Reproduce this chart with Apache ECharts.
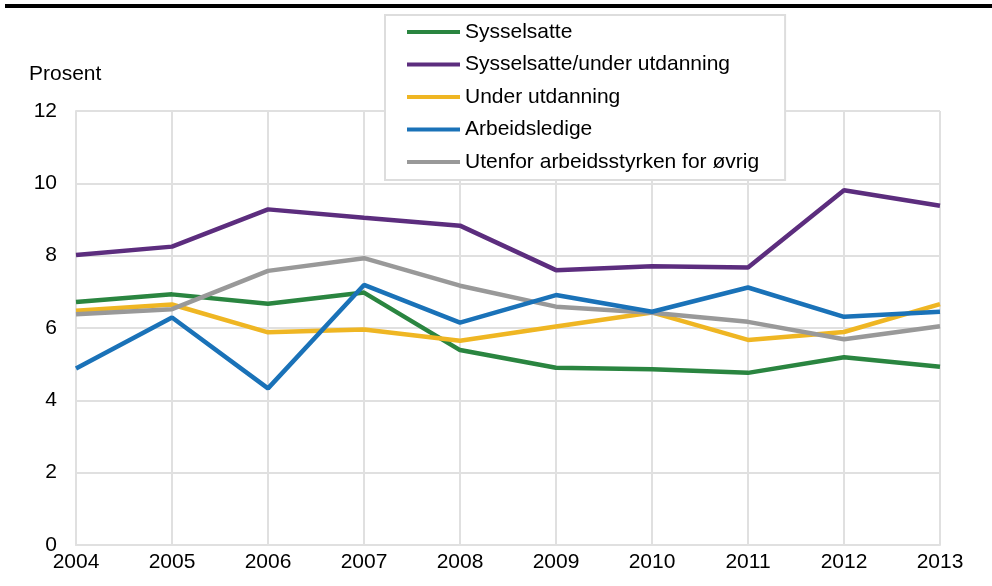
<!DOCTYPE html>
<html><head><meta charset="utf-8">
<script src="https://cdn.jsdelivr.net/npm/echarts@6/dist/echarts.min.js"></script>
<style>html,body{margin:0;padding:0;background:#fff}#c{width:992px;height:586px}</style>
</head><body><div id="c"></div>
<script>
const years = ['2004','2005','2006','2007','2008','2009','2010','2011','2012','2013'];
const seriesNames = ['Sysselsatte','Sysselsatte/under utdanning','Under utdanning','Arbeidsledige','Utenfor arbeidsstyrken for øvrig'];
const sysselsatte = [6.72,6.93,6.67,6.98,5.39,4.90,4.86,4.76,5.19,4.93];
const sysselsatteUnderUtdanning = [8.02,8.25,9.28,9.05,8.83,7.60,7.71,7.67,9.81,9.38];
const underUtdanning = [6.48,6.65,5.88,5.96,5.65,6.04,6.43,5.67,5.89,6.66];
const arbeidsledige = [4.88,6.29,4.33,7.19,6.15,6.91,6.45,7.12,6.31,6.45];
const utenfor = [6.38,6.52,7.58,7.93,7.17,6.59,6.42,6.17,5.69,6.05];
const colors = ['#2a8540','#5c2d7e','#efb623','#1a72b8','#999999'];
const dataSets = [sysselsatte,sysselsatteUnderUtdanning,underUtdanning,arbeidsledige,utenfor];

const chart = echarts.init(document.getElementById('c'));
const font = 'Liberation Sans, Arial, sans-serif';
chart.setOption({
  animation:false,
  textStyle:{fontFamily:font},
  grid:{left:76,right:52,top:111,bottom:41},
  graphic:[
    {type:'rect',shape:{x:5,y:4,width:987,height:4},style:{fill:'#000'}},
    {type:'text',x:29,y:74,style:{text:'Prosent',fontSize:21,fontFamily:font,fill:'#000',verticalAlign:'middle'}}
  ],
  legend:{
    orient:'vertical',left:385,top:15,
    padding:[6,26,7,22],
    backgroundColor:'#fff',borderColor:'#dddddd',borderWidth:2,
    itemWidth:53,itemHeight:4,itemGap:10.5,
    icon:'rect',
    textStyle:{fontSize:21,fontFamily:font,color:'#000',lineHeight:22},
    data:seriesNames
  },
  xAxis:{
    type:'category',data:years,boundaryGap:false,
    axisLine:{show:true,lineStyle:{color:'#e0e0e0',width:2}},
    axisTick:{show:false},
    axisLabel:{color:'#000',fontSize:21,fontFamily:font,margin:7},
    splitLine:{show:true,lineStyle:{color:'#e0e0e0',width:2}}
  },
  yAxis:{
    type:'value',min:0,max:12,interval:2,
    axisLine:{show:true,lineStyle:{color:'#e0e0e0',width:2}},
    axisTick:{show:false},
    axisLabel:{color:'#000',fontSize:21,fontFamily:font,margin:19},
    splitLine:{show:true,lineStyle:{color:'#e0e0e0',width:2}}
  },
  series:seriesNames.map((n,i)=>({
    name:n,type:'line',data:dataSets[i],showSymbol:false,symbol:'none',
    lineStyle:{color:colors[i],width:4.5},itemStyle:{color:colors[i]},
    z:i===3?5:2
  }))
});
</script></body></html>
